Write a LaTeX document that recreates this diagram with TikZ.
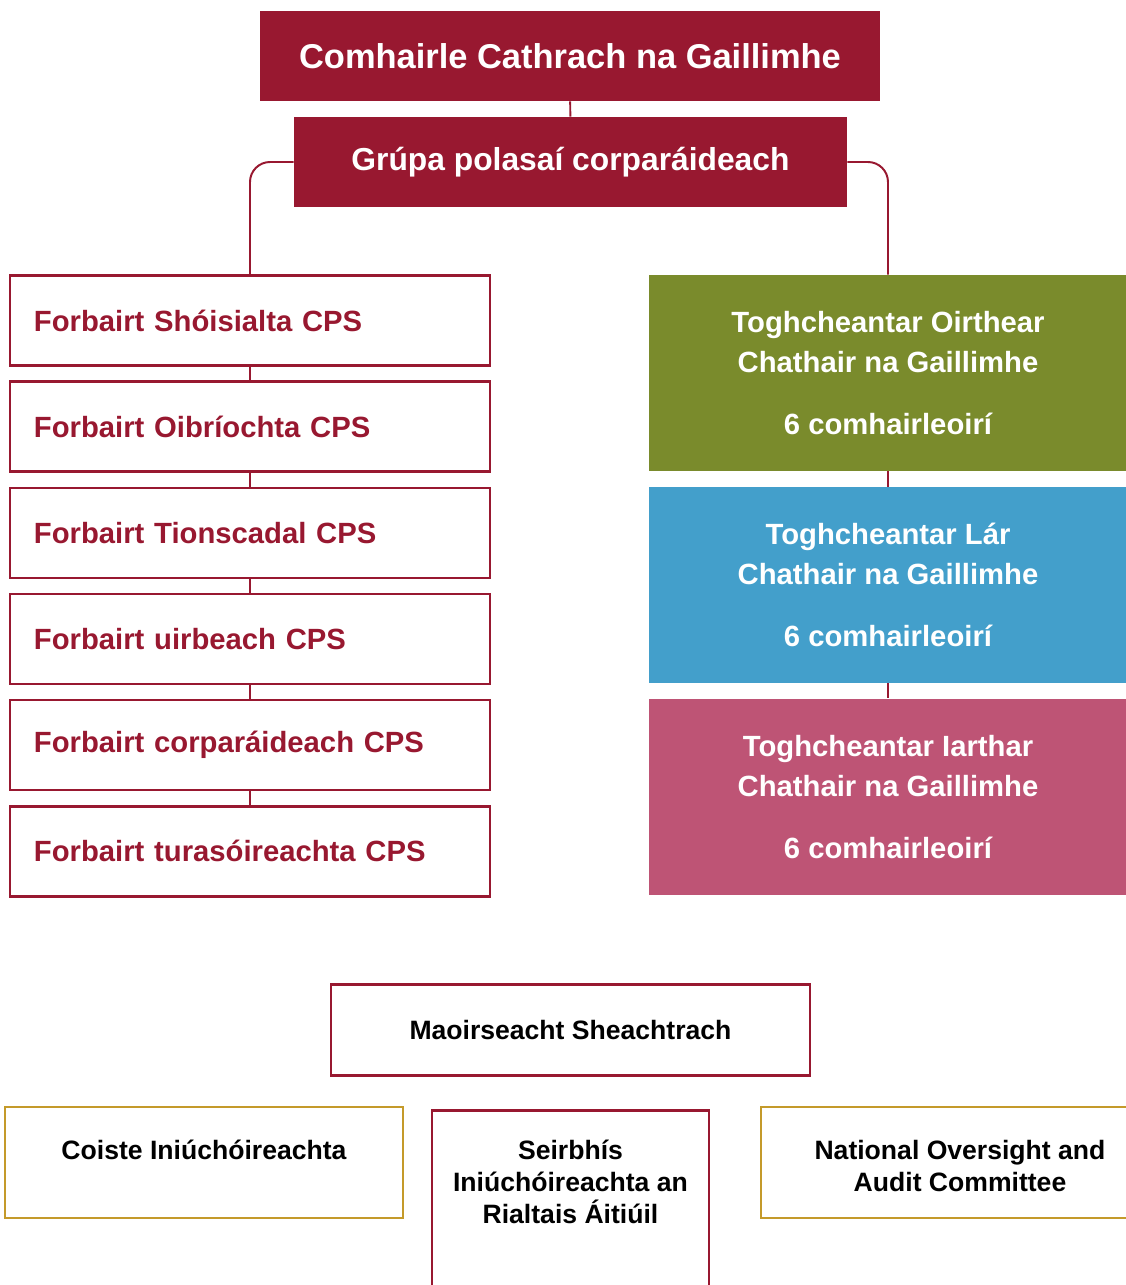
\documentclass[tikz,border=0pt]{standalone}
\usepackage{fontspec}
\setmainfont{Liberation Sans}
\usetikzlibrary{positioning}
\definecolor{galred}{RGB}{152,24,48}
\definecolor{wardgreen}{RGB}{122,139,44}
\definecolor{wardblue}{RGB}{67,159,203}
\definecolor{wardpink}{RGB}{190,84,117}
\definecolor{auditgold}{RGB}{196,154,42}

\begin{document}
\begin{tikzpicture}[x=0.025cm, y=-0.025cm, every node/.style={inner sep=0pt, font=\bfseries},
                    redbox/.style={fill=galred, text=white, minimum height=2.25cm},
                    cpsbox/.style={draw=galred, line width=1.8pt, text=galred, minimum height=2.25cm, text width=10.8cm, inner xsep=0.6cm, align=left, font=\bfseries\fontsize{20.8}{25}\selectfont},
                    ward/.style={fill=#1, text=white, minimum width=11.95cm, minimum height=4.9cm, align=center, font=\bfseries\fontsize{20.8}{28.5}\selectfont},
                    ovbox/.style={draw=#1, line width=2pt, minimum height=2.775cm},
                    ovtext/.style={anchor=north, align=center, font=\bfseries\fontsize{18.9}{22.8}\selectfont},
                    link/.style={draw=galred, line width=1.4pt}]
                    \useasboundingbox (0,0) rectangle (1126,1285);
                    % top of the chart
                    \node[redbox, minimum width=15.5cm, font=\bfseries\fontsize{24.5}{29}\selectfont](council) at (570,56){Comhairle Cathrach na Gaillimhe};
                    \node[redbox, minimum width=13.825cm, font=\bfseries\fontsize{22.6}{27}\selectfont](policy) at (570.5,162){Grúpa polasaí corparáideach};
                    % left column
                    \node[cpsbox](cps1) at (250,320.5){Forbairt Shóisialta CPS};
                    \node[cpsbox, below=0.34cm of cps1](cps2){Forbairt Oibríochta CPS};
                    \node[cpsbox, below=0.34cm of cps2](cps3){Forbairt Tionscadal CPS};
                    \node[cpsbox, below=0.34cm of cps3](cps4){Forbairt uirbeach CPS};
                    \node[cpsbox, below=0.34cm of cps4](cps5){Forbairt corparáideach CPS};
                    \node[cpsbox, below=0.34cm of cps5](cps6){Forbairt turasóireachta CPS};
                    % right column
                    \node[ward=wardgreen](east) at (888,373){Toghcheantar Oirthear\\Chathair na Gaillimhe\\[0.55cm]6 comhairleoirí};
                    \node[ward=wardblue, below=0.38cm of east](central){Toghcheantar Lár\\Chathair na Gaillimhe\\[0.55cm]6 comhairleoirí};
                    \node[ward=wardpink, below=0.38cm of central](west){Toghcheantar Iarthar\\Chathair na Gaillimhe\\[0.55cm]6 comhairleoirí};
                    % oversight
                    \node[ovbox=galred, minimum width=11.975cm, minimum height=2.275cm, font=\bfseries\fontsize{18.9}{22.8}\selectfont](oversight) at (570.5,1030){Maoirseacht Sheachtrach};
                    \node[ovbox=auditgold, minimum width=9.95cm](audit) at (204,1162.5){};
                    \node[ovbox=galred, line width=1.8pt, minimum width=6.925cm, minimum height=5cm, anchor=north](lgas) at (570.5,1109){};
                    \node[ovbox=auditgold, minimum width=9.95cm](noac) at (960,1162.5){};
                    \node[ovtext](audittxt) at ([yshift=-0.85cm]audit.north){Coiste Iniúchóireachta};
                    \node[ovtext](lgastxt) at ([yshift=-0.775cm]lgas.north){Seirbhís\\Iniúchóireachta an\\Rialtais Áitiúil};
                    \node[ovtext](noactxt) at ([yshift=-0.85cm]noac.north){National Oversight and\\Audit Committee};
                    % connectors
                    \draw[link] (council) -- (policy);
                    \draw[link, rounded corners=0.5cm] (policy.west) -| (cps1.north);
                    \draw[link, rounded corners=0.5cm] (policy.east) -| (east.north);
                    \foreach \a/\b in {cps1/cps2, cps2/cps3, cps3/cps4, cps4/cps5, cps5/cps6, east/central, central/west}
                        \draw[link] (\a) -- (\b);
                \end{tikzpicture}
\end{document}
